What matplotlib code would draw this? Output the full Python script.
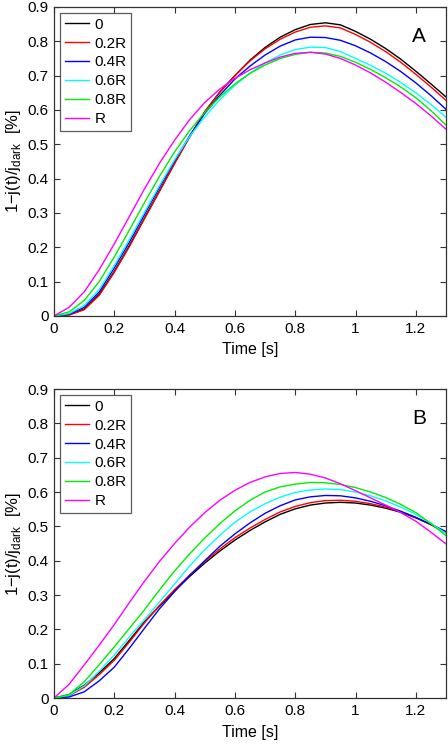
import numpy as np
import matplotlib
matplotlib.use('Agg')
import matplotlib.pyplot as plt
from matplotlib.ticker import FormatStrFormatter

plt.rcParams['font.family'] = ['Liberation Sans', 'DejaVu Sans']
plt.rcParams['mathtext.fontset'] = 'custom'
plt.rcParams['mathtext.rm'] = 'Liberation Sans'

# time axis (s)
t = [0, 0.05, 0.1, 0.15, 0.2, 0.25, 0.3, 0.35, 0.4, 0.45, 0.5, 0.55, 0.6, 0.65,
     0.7, 0.75, 0.8, 0.85, 0.9, 0.95, 1.0, 1.05, 1.1, 1.15, 1.2, 1.25, 1.3]

labels = ['0', '0.2R', '0.4R', '0.6R', '0.8R', 'R']
colors = ['#000000', '#ff0000', '#0000ff', '#00ffff', '#00ee00', '#ff00ff']

# panel A
a_0 = [0, 0.003, 0.02, 0.063, 0.13, 0.205, 0.285, 0.365, 0.445, 0.522, 0.595, 0.652, 0.70, 0.745,
       0.782, 0.812, 0.834, 0.849, 0.854, 0.848, 0.829, 0.806, 0.779, 0.748, 0.713, 0.676, 0.638]
a_02 = [0, 0.003, 0.018, 0.06, 0.127, 0.202, 0.283, 0.363, 0.444, 0.522, 0.595, 0.652, 0.70, 0.743,
        0.778, 0.806, 0.827, 0.841, 0.845, 0.839, 0.82, 0.797, 0.77, 0.739, 0.704, 0.667, 0.628]
a_04 = [0, 0.005, 0.025, 0.07, 0.14, 0.215, 0.295, 0.375, 0.452, 0.525, 0.59, 0.643, 0.69, 0.728,
        0.76, 0.786, 0.804, 0.812, 0.811, 0.803, 0.787, 0.766, 0.741, 0.712, 0.679, 0.642, 0.602]
a_06 = [0, 0.007, 0.03, 0.077, 0.147, 0.223, 0.302, 0.38, 0.455, 0.523, 0.58, 0.63, 0.672, 0.707,
        0.737, 0.76, 0.776, 0.783, 0.782, 0.77, 0.75, 0.73, 0.707, 0.68, 0.65, 0.616, 0.579]
a_08 = [0, 0.012, 0.045, 0.1, 0.172, 0.25, 0.33, 0.407, 0.478, 0.54, 0.593, 0.638, 0.676, 0.707,
        0.731, 0.75, 0.762, 0.768, 0.766, 0.756, 0.739, 0.718, 0.694, 0.667, 0.636, 0.598, 0.556]
a_1 = [0, 0.025, 0.07, 0.135, 0.21, 0.29, 0.37, 0.445, 0.512, 0.572, 0.622, 0.661, 0.692, 0.717,
       0.737, 0.754, 0.765, 0.768, 0.763, 0.75, 0.731, 0.708, 0.681, 0.651, 0.619, 0.583, 0.544]

# panel B
b_0 = [0, 0.01, 0.037, 0.073, 0.115, 0.168, 0.222, 0.268, 0.312, 0.354, 0.393, 0.428, 0.46, 0.488,
       0.513, 0.535, 0.551, 0.562, 0.568, 0.57, 0.568, 0.562, 0.553, 0.541, 0.525, 0.505, 0.482]
b_02 = [0, 0.007, 0.031, 0.068, 0.11, 0.163, 0.219, 0.27, 0.316, 0.358, 0.398, 0.434, 0.467, 0.495,
        0.52, 0.542, 0.558, 0.569, 0.575, 0.576, 0.573, 0.566, 0.556, 0.543, 0.526, 0.505, 0.482]
b_04 = [0, 0.003, 0.018, 0.05, 0.09, 0.145, 0.203, 0.26, 0.31, 0.357, 0.4, 0.442, 0.478, 0.51,
        0.538, 0.56, 0.577, 0.586, 0.59, 0.589, 0.583, 0.573, 0.56, 0.544, 0.526, 0.506, 0.485]
b_06 = [0, 0.008, 0.035, 0.078, 0.125, 0.178, 0.228, 0.28, 0.332, 0.385, 0.432, 0.474, 0.512, 0.542,
        0.566, 0.585, 0.599, 0.606, 0.609, 0.607, 0.6, 0.589, 0.574, 0.556, 0.535, 0.509, 0.479]
b_08 = [0, 0.01, 0.047, 0.097, 0.149, 0.203, 0.257, 0.315, 0.37, 0.42, 0.466, 0.508, 0.545, 0.576,
        0.6, 0.615, 0.623, 0.628, 0.627, 0.622, 0.613, 0.6, 0.584, 0.564, 0.54, 0.508, 0.473]
b_1 = [0, 0.04, 0.096, 0.154, 0.214, 0.278, 0.34, 0.398, 0.45, 0.498, 0.54, 0.576, 0.605, 0.628,
       0.644, 0.654, 0.657, 0.652, 0.641, 0.624, 0.604, 0.583, 0.562, 0.54, 0.515, 0.483, 0.449]

panels = [
    ('A', [a_0, a_02, a_04, a_06, a_08, a_1], [0.1205, 0.5753, 0.875, 0.4153]),
    ('B', [b_0, b_02, b_04, b_06, b_08, b_1], [0.1205, 0.0618, 0.875, 0.4153]),
]

fig = plt.figure(figsize=(4.48, 7.44), dpi=100)

for letter, series, rect in panels:
    ax = fig.add_axes(rect)
    for y, c, lab in zip(series, colors, labels):
        ax.plot(t, y, color=c, lw=1.0, label=lab)
    ax.set_xlim(0, 1.3)
    ax.set_ylim(0, 0.9)
    ax.set_xticks(np.arange(0, 1.21, 0.2))
    ax.set_yticks(np.arange(0, 0.91, 0.1))
    ax.xaxis.set_major_formatter(FormatStrFormatter('%g'))
    ax.yaxis.set_major_formatter(FormatStrFormatter('%g'))
    ax.tick_params(direction='in', top=True, right=True, length=4, width=0.8,
                   labelsize=11, pad=4, color='#333333')
    for sp in ax.spines.values():
        sp.set_color('#333333')
        sp.set_linewidth(0.9)
    ax.set_xlabel('Time [s]', fontsize=11.5, labelpad=5)
    ax.set_ylabel('1\u2212j(t)/j$_\\mathregular{dark}$  [%]', fontsize=12, labelpad=3)
    ax.text(0.932, 0.905, letter, transform=ax.transAxes, fontsize=15,
            ha='center', va='center')
    leg = ax.legend(loc='upper left', fontsize=11, frameon=True, fancybox=False,
                    borderaxespad=0.4, handlelength=1.6, handletextpad=0.35,
                    labelspacing=0.32, borderpad=0.3)
    leg.get_frame().set_edgecolor('#333333')
    leg.get_frame().set_linewidth(0.9)

fig.savefig('out.png', dpi=100)
